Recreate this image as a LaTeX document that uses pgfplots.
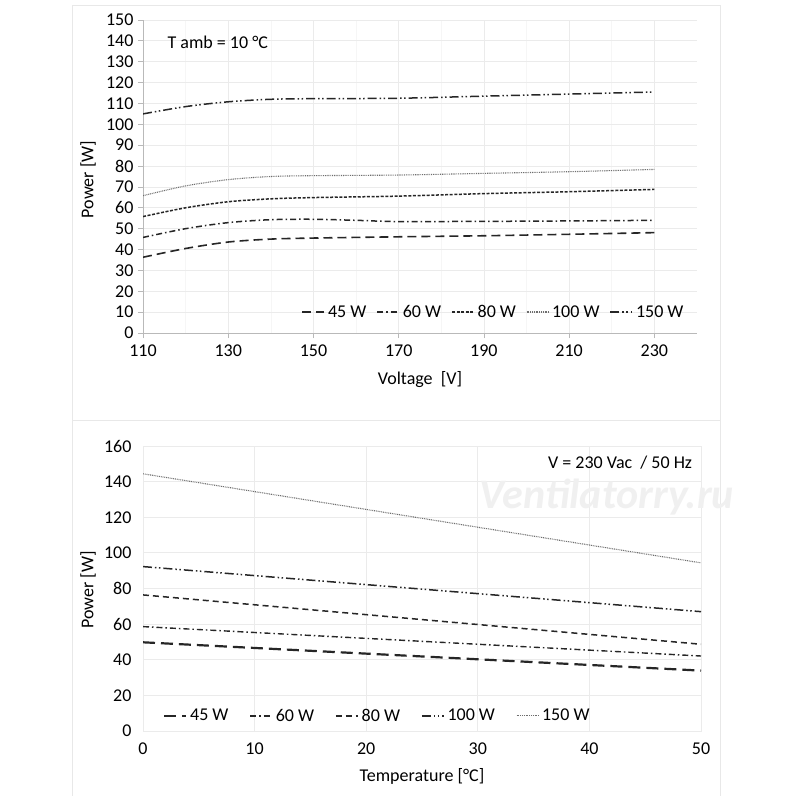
\documentclass[border=0pt]{standalone}
\usepackage{pgfplots}
\pgfplotsset{compat=1.18}
\usepackage{fontspec}
\setmainfont{Carlito}
\definecolor{lineC}{HTML}{262626}
\definecolor{dotC}{HTML}{6E6E6E}
\begin{document}
\begin{tikzpicture}[x=1pt,y=1pt]
\useasboundingbox (0,0) rectangle (800,796);
\fill[white] (0,0) rectangle (800,796);
\draw[gray!18, line width=1pt] (72,375) rectangle (720,790);
\draw[gray!18, line width=1pt] (72,0) -- (72,375);
\draw[gray!18, line width=1pt] (720,0) -- (720,375);
\pgfplotsset{
  every axis/.append style={
    font=\fontsize{18}{21}\selectfont,
    /pgf/number format/assume math mode=true,
    legend image code/.code={\draw[#1] (0pt,0pt) -- (22pt,0pt);},
  },
}
% ---------------- top panel ----------------
\begin{axis}[
  at={(143pt,463pt)}, anchor=south west,
  scale only axis, width=554pt, height=313pt,
  xmin=110, xmax=240, ymin=0, ymax=150,
  xtick={110,130,...,230}, ytick={0,10,...,150},
  minor x tick num=1,
  axis lines=left,
  axis line style={gray!55, -, line width=0.8pt},
  tick style={gray!55, line width=0.8pt},
  major tick length=5pt, minor tick length=0pt,
  tick align=outside,
  grid=both,
  major grid style={gray!16, line width=0.8pt},
  minor grid style={gray!7, line width=0.6pt},
  xticklabel style={yshift=-3pt},
  yticklabel style={xshift=-1pt},
  xlabel={Voltage~~[V]},
  xlabel style={at={(axis description cs:0.5,-0.15)}, anchor=center},
  ylabel={Power [W]},
  ylabel style={at={(axis description cs:-0.099,0.49)}, anchor=center},
  legend columns=5,
  legend style={at={(0.985,0.067)}, anchor=east, draw=none, fill=none,
    font=\fontsize{18}{21}\selectfont,
    /tikz/every odd column/.append style={column sep=1pt},
    /tikz/every even column/.append style={column sep=8pt}},
]
\addplot[lineC, line width=1.6pt, smooth, dash pattern=on 9pt off 5pt] coordinates {
(110,36.3) (120,40.5) (130,43.6) (140,45.0) (150,45.5) (170,46.1) (190,46.6) (210,47.3) (230,48.1)};
\addlegendentry{45 W}
\addplot[lineC, line width=1.5pt, smooth, dash pattern=on 6pt off 3pt on 1.5pt off 3pt] coordinates {
(110,45.8) (120,50.0) (130,52.9) (140,54.3) (150,54.5) (160,54.0) (170,53.4) (190,53.5) (210,53.7) (230,54.0)};
\addlegendentry{60 W}
\addplot[lineC, line width=1.5pt, smooth, dash pattern=on 3pt off 1.6pt] coordinates {
(110,55.8) (120,60.0) (130,62.9) (140,64.3) (150,64.9) (170,65.6) (190,66.8) (210,67.7) (230,68.8)};
\addlegendentry{80 W}
\addplot[dotC, line width=1.1pt, smooth, dash pattern=on 0.9pt off 0.9pt] coordinates {
(110,65.8) (120,70.5) (130,73.5) (140,75.0) (150,75.4) (170,75.7) (190,76.5) (210,77.3) (230,78.4)};
\addlegendentry{100 W}
\addplot[lineC, line width=1.5pt, smooth, dash pattern=on 9pt off 3pt on 1.5pt off 2.5pt on 1.5pt off 3pt] coordinates {
(110,105.0) (120,108.5) (130,110.8) (140,112.0) (150,112.3) (170,112.5) (190,113.5) (210,114.5) (230,115.5)};
\addlegendentry{150 W}
\node[anchor=center] at (rel axis cs:0.135,0.93) {T amb = 10 °C};
\end{axis}
% ---------------- bottom panel ----------------
\begin{axis}[
  at={(143pt,65pt)}, anchor=south west,
  scale only axis, width=558pt, height=285pt,
  xmin=0, xmax=50, ymin=0, ymax=160,
  xtick={0,10,...,50}, ytick={0,20,...,160},
  axis line style={gray!16, line width=0.8pt},
  major tick length=0pt,
  grid=major,
  major grid style={gray!16, line width=0.8pt},
  xticklabel style={yshift=-8pt},
  yticklabel style={xshift=-8pt},
  xlabel={Temperature [°C]},
  xlabel style={at={(axis description cs:0.5,-0.158)}, anchor=center},
  ylabel={Power [W]},
  ylabel style={at={(axis description cs:-0.0986,0.495)}, anchor=center},
  legend columns=5,
  legend style={at={(0.03,0.053)}, anchor=west, draw=none, fill=none,
    font=\fontsize{18}{21}\selectfont,
    /tikz/every odd column/.append style={column sep=1pt},
    /tikz/every even column/.append style={column sep=19pt}},
]
\addplot[lineC, line width=2.2pt, dash pattern=on 12pt off 6pt] coordinates {(0,49.8) (50,33.9)};
\addlegendentry{45 W}
\addplot[lineC, line width=1.4pt, dash pattern=on 6pt off 3pt on 1.5pt off 3pt] coordinates {(0,58.6) (50,42.1)};
\addlegendentry{60 W}
\addplot[lineC, line width=1.5pt, dash pattern=on 6pt off 4pt] coordinates {(0,76.4) (50,48.7)};
\addlegendentry{80 W}
\addplot[lineC, line width=1.5pt, dash pattern=on 9pt off 3pt on 1.5pt off 2.5pt on 1.5pt off 3pt] coordinates {(0,92.3) (50,67.0)};
\addlegendentry{100 W}
\addplot[dotC, line width=1.1pt, dash pattern=on 0.9pt off 0.9pt] coordinates {(0,144.4) (50,94.4)};
\addlegendentry{150 W}
\node[anchor=center] at (rel axis cs:0.855,0.94) {V = 230 Vac~~/ 50 Hz};
\end{axis}
\node[gray!12, font=\fontsize{42}{46}\selectfont\itshape\bfseries] at (607,299) {Ventilatorry.ru};
\end{tikzpicture}
\end{document}
